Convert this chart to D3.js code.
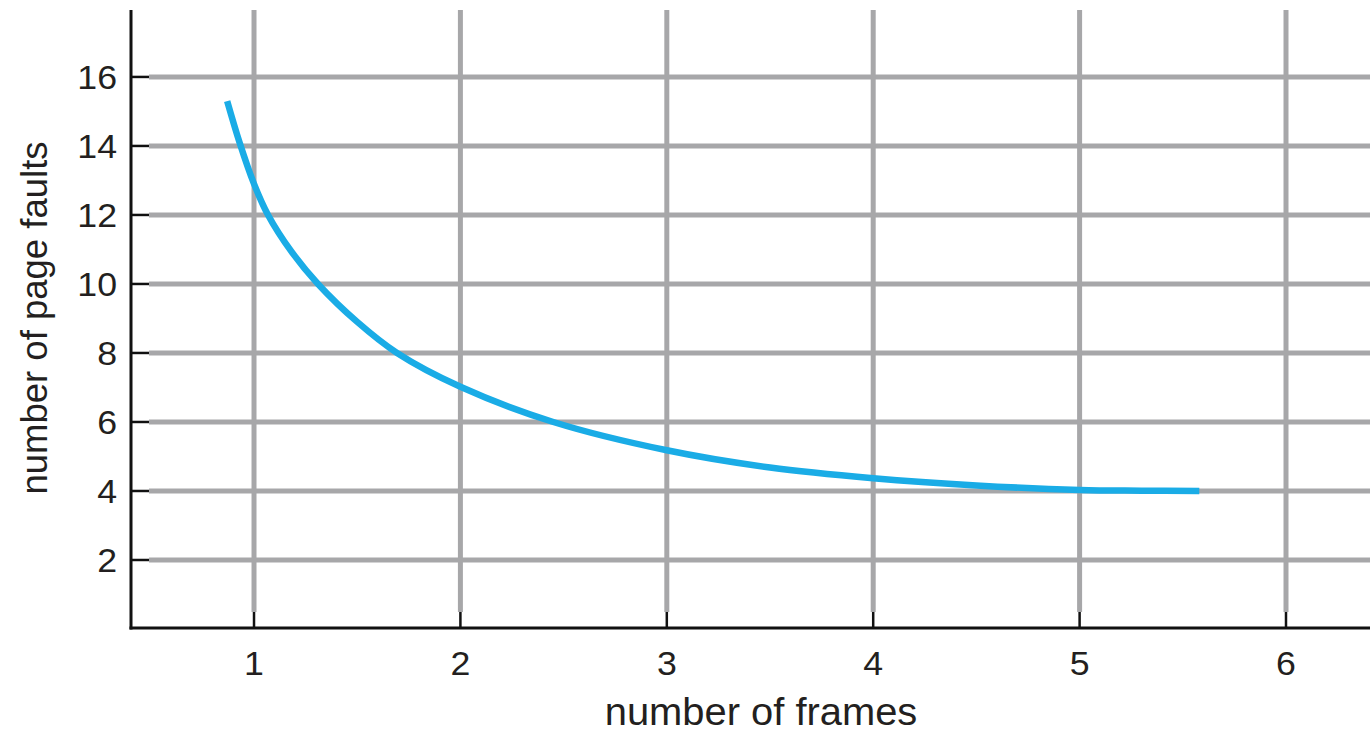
<!DOCTYPE html>
<html>
<head>
<meta charset="utf-8">
<script src="https://cdn.jsdelivr.net/npm/d3@7/dist/d3.min.js"></script>
<style>
  html, body { margin: 0; padding: 0; background: #fff; }
  svg { display: block; }
  text { font-family: "Liberation Sans", Arial, Helvetica, sans-serif; fill: #231f20; }
</style>
</head>
<body>
<svg id="chart" width="1370" height="733"></svg>
<script>
// ---- data ----
const frames = [0.87, 0.93, 1.0, 1.068, 1.18, 1.31, 1.5, 1.693, 2.0, 2.45, 3.0, 3.5, 4.0, 4.5, 5.0, 5.3, 5.58];
const faults = [15.3, 14.1, 12.9, 12.0, 10.95, 10.0, 8.9, 8.0, 7.02, 6.0, 5.18, 4.68, 4.37, 4.16, 4.03, 4.01, 4.0];
const xTicks = [1, 2, 3, 4, 5, 6];
const yTicks = [2, 4, 6, 8, 10, 12, 14, 16];
const xTitle = "number of frames";
const yTitle = "number of page faults";

// ---- layout ----
const plotLeft = 131, plotRight = 1370, plotTop = 10, plotBottom = 628;
const x = d3.scaleLinear().domain([0.404, 6.407]).range([plotLeft, plotRight]);
const y = d3.scaleLinear().domain([0, 17.94]).range([plotBottom + 1, plotTop]);

const svg = d3.select("#chart");
const gridColor = "#a7a7a9";
const tickLen = 18;

// horizontal gridlines
svg.append("g").selectAll("line").data(yTicks).join("line")
  .attr("x1", plotLeft + tickLen).attr("x2", plotRight)
  .attr("y1", d => y(d)).attr("y2", d => y(d))
  .attr("stroke", gridColor).attr("stroke-width", 5);

// vertical gridlines
svg.append("g").selectAll("line").data(xTicks).join("line")
  .attr("x1", d => x(d)).attr("x2", d => x(d))
  .attr("y1", plotTop).attr("y2", plotBottom - tickLen + 2)
  .attr("stroke", gridColor).attr("stroke-width", 5);

// axes lines
svg.append("line").attr("x1", plotLeft).attr("x2", plotLeft).attr("y1", plotTop).attr("y2", plotBottom + 1.5)
  .attr("stroke", "#111").attr("stroke-width", 3);
svg.append("line").attr("x1", plotLeft - 1.5).attr("x2", plotRight).attr("y1", plotBottom).attr("y2", plotBottom)
  .attr("stroke", "#111").attr("stroke-width", 3);

// ticks
svg.append("g").selectAll("line").data(yTicks).join("line")
  .attr("x1", plotLeft).attr("x2", plotLeft + tickLen)
  .attr("y1", d => y(d)).attr("y2", d => y(d))
  .attr("stroke", "#111").attr("stroke-width", 2.5);
svg.append("g").selectAll("line").data(xTicks).join("line")
  .attr("x1", d => x(d)).attr("x2", d => x(d))
  .attr("y1", plotBottom).attr("y2", plotBottom - tickLen + 2)
  .attr("stroke", "#111").attr("stroke-width", 2.5);

// tick labels
svg.append("g").selectAll("text").data(yTicks).join("text")
  .attr("transform", d => `translate(${plotLeft - 14},${y(d) + 12}) scale(1.05,1)`)
  .attr("text-anchor", "end").attr("font-size", 34)
  .text(d => d);
svg.append("g").selectAll("text").data(xTicks).join("text")
  .attr("transform", d => `translate(${x(d)},675) scale(1.05,1)`)
  .attr("text-anchor", "middle").attr("font-size", 34)
  .text(d => d);

// axis titles
svg.append("text").attr("transform", "translate(761,725) scale(1.05,1)")
  .attr("text-anchor", "middle").attr("font-size", 38).text(xTitle);
svg.append("text").attr("transform", "translate(47,318) rotate(-90)")
  .attr("text-anchor", "middle").attr("font-size", 36.5).text(yTitle);

// curve
const pts = frames.map((f, i) => [f, faults[i]]);
svg.append("path").datum(pts)
  .attr("fill", "none").attr("stroke", "#1aace6").attr("stroke-width", 6.5)
  .attr("d", d3.line().x(d => x(d[0])).y(d => y(d[1])).curve(d3.curveCatmullRom.alpha(0.5)));
</script>
</body>
</html>
